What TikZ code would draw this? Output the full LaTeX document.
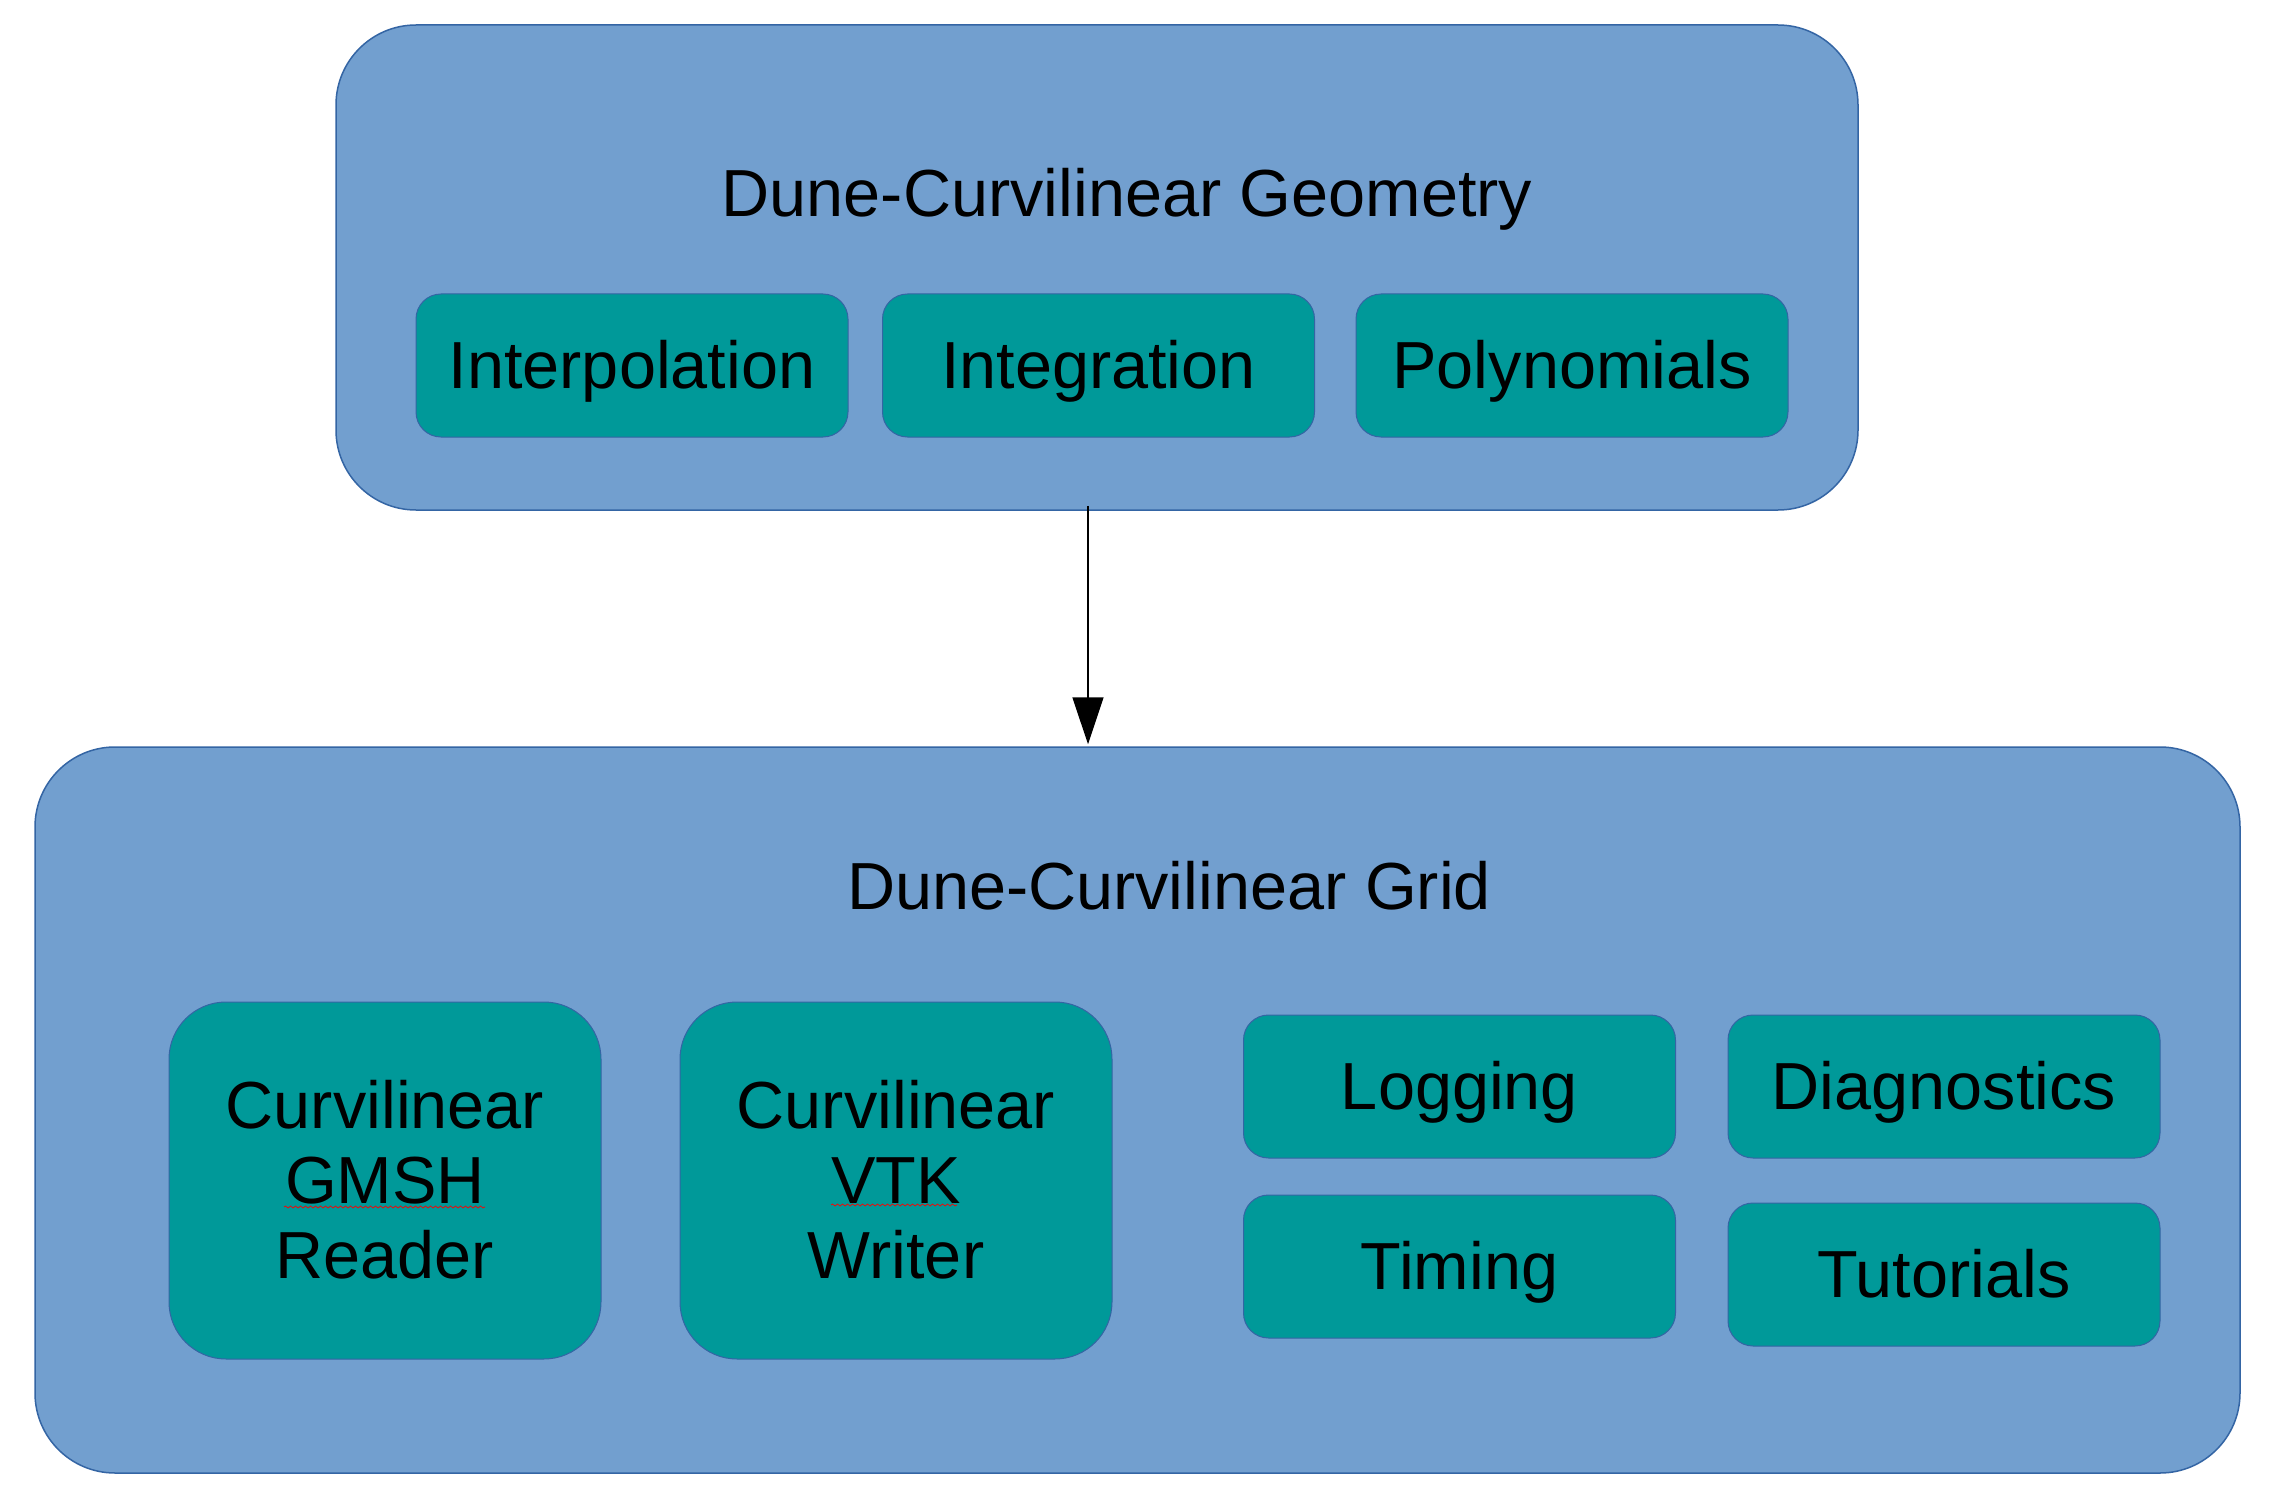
\documentclass[tikz,border=0pt]{standalone}
\usepackage{fontspec}
\setmainfont{Liberation Sans}
\usetikzlibrary{arrows.meta,decorations.pathmorphing}
\definecolor{outerfill}{HTML}{729FCF}
\definecolor{outerline}{HTML}{3465A4}
\definecolor{innerfill}{HTML}{009999}
\newcommand\mystrut{\vrule height 0.905em depth 0.212em width 0pt}
\tikzset{
  outerbox/.style={draw=outerline, fill=outerfill, line width=0.75pt, rounded corners=40pt, inner sep=0pt},
  innerbox/.style={draw=outerline, fill=innerfill, line width=0.5pt, rounded corners=12.5pt, inner sep=0pt,
     minimum width=216pt, minimum height=71.5pt, align=center},
  bigbox/.style={innerbox, rounded corners=28.5pt, minimum height=178.5pt},
  titletext/.style={anchor=base, inner sep=0pt},
  arr/.style={draw=black, line width=0.75pt, -{Triangle[length=23.5pt,width=15.5pt]}},
  squiggle/.style={draw=red, line width=0.35pt, decorate, decoration={snake, amplitude=0.5pt, segment length=2.5pt}}
}
\begin{document}
\begin{tikzpicture}[x=0.5pt, y=-0.5pt, font=\fontsize{33.3pt}{37.5pt}\selectfont]
\useasboundingbox[fill=white] (0,0) rectangle (2271,1503);
% outer boxes
\node[outerbox, minimum width=761pt, minimum height=242.5pt] (geom) at (1097,267.5) {};
\node[outerbox, minimum width=1102.5pt, minimum height=363pt] (grid) at (1137.5,1110) {};
\node[titletext] (geomtitle) at (1127,217) {Dune-Curvilinear Geometry};
\node[titletext] (gridtitle) at (1169,909) {Dune-Curvilinear Grid};
% geometry modules
\node[innerbox] (interp) at (632,365.5) {\mystrut Interpolation};
\node[innerbox] (integ) at (1098.5,365.5) {\mystrut Integration};
\node[innerbox] (poly) at (1572,365.5) {\mystrut Polynomials};
% grid modules
\node[bigbox] (gmsh) at (385,1180.5) {\mystrut Curvilinear\\\mystrut GMSH\\\mystrut Reader};
\node[bigbox] (vtk) at (896,1180.5) {\mystrut Curvilinear\\\mystrut VTK\\\mystrut Writer};
\node[innerbox] (log) at (1459.5,1086.5) {\mystrut Logging};
\node[innerbox] (diag) at (1944,1086.5) {\mystrut Diagnostics};
\node[innerbox] (timing) at (1459.5,1266.5) {\mystrut Timing};
\node[innerbox] (tut) at (1944,1274.5) {\mystrut Tutorials};
% spell-check squiggles
\draw[squiggle] (284,1207) -- (485,1207);
\draw[squiggle] (831,1205) -- (957,1205);
% connector
\coordinate (ax) at (1088,0);
\draw[arr] ([yshift=2.5pt]geom.south -| ax) -- ([yshift=1pt]grid.north -| ax);
\end{tikzpicture}
\end{document}
